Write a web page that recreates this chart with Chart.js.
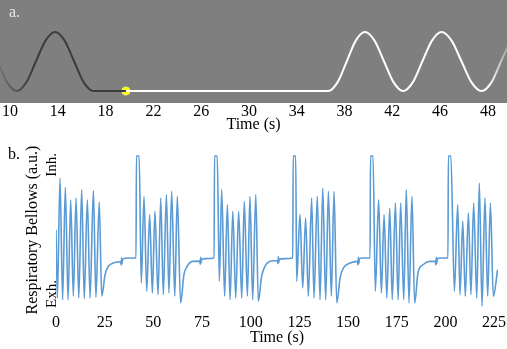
<!DOCTYPE html>
<html>
<head>
<meta charset="utf-8">
<script src="https://cdn.jsdelivr.net/npm/chart.js@4.4.0/dist/chart.umd.min.js"></script>
<style>
	body { margin: 0; background: #fff; }
	.panel { position: relative; width: 507px; }
	.tag { position: absolute; font: 16px "Liberation Serif", serif; }
</style>
</head>
<body>
<div class="panel" style="height:140px">
	<canvas id="scan_chart"></canvas>
	<div class="tag" style="left:9px;top:3px;color:#e6e6e6">a.</div>
</div>
<div class="panel" style="height:209px">
	<canvas id="bellows_chart"></canvas>
	<div class="tag" style="left:8px;top:5px;color:#000">b.</div>
</div>
<script>
// panel a: stimulus trace (time in s, level 0 = rest, 1 = peak)
const scanTicks = [10, 14, 18, 22, 26, 30, 34, 38, 42, 46, 50];
const scanTickLabels = ['10', '14', '18', '22', '26', '30', '34', '38', '42', '46', '48'];

const pastTime  = [8.96, 9.76, 10.56, 11.36, 12.16, 12.97, 13.77, 14.57, 15.37, 16.17, 16.98, 19.71];
const pastLevel = [0.5, 0.146, 0, 0.146, 0.5, 0.854, 1, 0.854, 0.5, 0.146, 0, 0];

const futureTime  = [19.71, 36.64, 37.41, 38.18, 38.94, 39.71, 40.51, 41.31, 42.11, 42.91, 43.71, 44.51, 45.32, 46.12, 46.96, 47.80, 48.63, 49.47, 50.3, 51.1, 51.9];
const futureLevel = [0, 0, 0.146, 0.5, 0.854, 1, 0.854, 0.5, 0.146, 0, 0.146, 0.5, 0.854, 1, 0.854, 0.5, 0.146, 0, 0.146, 0.5, 0.854];

const cursorTime = [19.71];
const cursorLevel = [0];

// panel b: respiratory bellows (Exh. = 0, Inh. = 100)
const bellowsTicks = [0, 25, 50, 75, 100, 125, 150, 175, 200, 225];
const bellowsLevelTicks = [0, 100];
const bellowsLevelLabels = ['Exh.', 'Inh.'];

const bellowsTime = [
	0, 0.7, 2.05, 3.4, 4.8, 6.2, 7.55, 8.9, 10.3, 11.7, 13.2, 14.5, 16.1, 17.5, 19.2, 20.5, 22.2, 23.5,
	25.2, 26.9, 29.4, 33.2, 33.5, 33.7, 33.9, 34.2, 37.1, 41.1,
	41.3, 42.7,
	43.8, 45.2, 46.6, 48.1, 49.5, 50.8, 52.4, 53.8, 55.1, 56.7, 58.0, 59.4, 61.0, 62.3, 64.0,
	65.7, 67.4, 70.0, 73.8, 74.1, 74.3, 74.5, 74.8, 76.9, 81.2,
	81.4, 82.8,
	83.9, 85.1, 86.6, 88.0, 89.4, 90.8, 92.3, 93.8, 95.4, 96.7, 98.3, 99.6, 101.0, 102.6, 103.9,
	105.6, 107.3, 109.9, 113.7, 114.0, 114.2, 114.4, 114.7, 117.6, 121.6,
	121.8, 123.1,
	123.6, 125.3, 126.7, 128.2, 129.6, 131.3, 132.5, 134.2, 135.6, 137.0, 138.5, 139.9, 141.4, 142.8, 144.2,
	145.9, 147.6, 151.0, 154.8, 155.1, 155.3, 155.5, 155.8, 157.0, 161.3,
	161.5, 162.8,
	164.0, 165.7, 167.1, 168.5, 169.9, 171.4, 172.7, 174.3, 175.7, 177.0, 178.6, 179.9, 181.3, 182.8, 184.2,
	185.9, 188.5, 191.9, 194.8, 195.1, 195.3, 195.5, 195.8, 197.1, 201.3,
	201.5, 202.8,
	204.6, 206.3, 207.5, 208.9, 210.2, 211.8, 213.1, 214.5, 216.1, 217.4, 218.8, 220.3, 221.7, 223.1, 224.6, 226.8
];
const bellowsLevel = [
	49.8, -3.1, 89.9, -4.4, 82.7, -4.4, 73.1, -1.8, 74.4, -3.1, 80.9, -3.6, 73.1, -3.1, 80.1, -2.5, 71.3, -1.8,
	15.0, 21.5, 24.0, 25.0, 22.5, 28.0, 23.5, 27.0, 27.9, 27.9,
	107, 107,
	8.5, 75.7, 2.1, 61.5, 0.8, 64.1, -0.5, 74.4, -0.5, 77.0, 0.8, 79.6, -1.8, 75.7, -7.0,
	15.0, 21.5, 25.3, 25.5, 23.0, 28.5, 24.0, 26.8, 27.4, 27.9,
	107, 107,
	9.8, 80.9, -1.8, 69.2, -4.4, 64.1, -3.1, 64.1, -3.1, 71.9, -1.8, 75.7, -4.4, 77.0, -5.7,
	13.7, 21.5, 25.3, 26.0, 23.5, 29.0, 24.5, 27.0, 27.4, 27.9,
	107, 107,
	9.8, 61.5, 4.7, 58.9, -1.8, 74.4, -3.1, 75.7, -4.4, 82.2, -4.4, 79.6, -1.8, 79.6, -7.0,
	12.4, 20.2, 24.0, 25.3, 22.5, 28.5, 23.5, 27.0, 27.9, 27.9,
	107, 107,
	2.1, 73.1, 0.8, 61.5, -3.1, 66.7, -4.4, 70.5, -4.4, 70.5, -4.4, 80.9, -7.0, 75.7, -7.0,
	16.3, 22.7, 25.3, 25.3, 22.5, 28.5, 23.5, 27.0, 27.9, 27.9,
	107, 107,
	2.1, 69.2, -0.5, 56.4, -1.8, 62.8, -0.5, 70.5, -3.1, 86.0, -9.5, 74.4, -1.8, 70.5, -1.8, 18.8
];

const SERIF = '"Liberation Serif", "Times New Roman", serif';
const toPoints = (xs, ys) => xs.map((x, i) => ({x: x, y: ys[i]}));

const greyBackdrop = {
	id: 'greyBackdrop',
	beforeDraw(chart) {
		const {ctx, chartArea: a} = chart;
		ctx.save();
		ctx.fillStyle = '#7f7f7f';
		ctx.fillRect(a.left, a.top, a.right - a.left, a.bottom - a.top);
		ctx.restore();
	}
};

// fade the trace at the panel edges
function edgeFade(color, faded, fadeLeft) {
	return ctx => {
		const area = ctx.chart.chartArea;
		if (!area) return color;
		const g = ctx.chart.ctx.createLinearGradient(area.left, 0, area.right, 0);
		if (fadeLeft) {
			g.addColorStop(0, faded);
			g.addColorStop(0.06, color);
			g.addColorStop(1, color);
		} else {
			g.addColorStop(0, color);
			g.addColorStop(0.965, color);
			g.addColorStop(1, faded);
		}
		return g;
	};
}

// keep the edge tick labels from shrinking the plot area
function fixedHeight(h) {
	return s => {
		s.height = h;
		s.paddingLeft = 0;
		s.paddingRight = 0;
	};
}

const scan_chart = new Chart(document.getElementById('scan_chart'), {
	type: 'line',
	data: {
		datasets: [
			{
				data: toPoints(pastTime, pastLevel),
				borderColor: edgeFade('#3c3c3c', 'rgba(60,60,60,0.2)', true),
				borderWidth: 2,
				pointRadius: 0,
				cubicInterpolationMode: 'monotone',
			},
			{
				data: toPoints(futureTime, futureLevel),
				borderColor: edgeFade('#ffffff', 'rgba(255,255,255,0.3)', false),
				borderWidth: 2,
				pointRadius: 0,
				cubicInterpolationMode: 'monotone',
			},
			{
				data: toPoints(cursorTime, cursorLevel),
				showLine: false,
				pointRadius: 4,
				pointBackgroundColor: '#ffff00',
				pointBorderColor: '#f4f46a',
				pointBorderWidth: 1,
			},
		]
	},
	options: {
		responsive: true,
		maintainAspectRatio: false,
		animation: false,
		plugins: { legend: { display: false }, tooltip: { enabled: false } },
		layout: { padding: 0, autoPadding: false },
		scales: {
			x: {
				type: 'linear',
				min: 9.16,
				max: 51.6,
				afterBuildTicks: s => { s.ticks = scanTicks.map(v => ({value: v})); },
				afterFit: fixedHeight(37),
				ticks: {
					autoSkip: false,
					maxRotation: 0,
					padding: -1,
					color: '#000',
					font: { family: SERIF, size: 16 },
					callback: (v, i) => scanTickLabels[i],
				},
				grid: { display: false, drawTicks: false },
				border: { display: false },
				title: {
					display: true,
					text: 'Time (s)',
					color: '#000',
					font: { family: SERIF, size: 16 },
					padding: { top: 0, bottom: 6 },
				},
			},
			y: {
				display: false,
				min: -0.203,
				max: 1.542,
			},
		}
	},
	plugins: [greyBackdrop],
});

// rotated Inh./Exh. labels placed on the level scale
const sideLabels = {
	id: 'sideLabels',
	afterDraw(chart) {
		const y = chart.scales.y;
		const ctx = chart.ctx;
		ctx.save();
		ctx.font = '15px ' + SERIF;
		ctx.fillStyle = '#000';
		ctx.textAlign = 'center';
		ctx.textBaseline = 'middle';
		bellowsLevelTicks.forEach((v, i) => {
			ctx.save();
			ctx.translate(y.right - 4, y.getPixelForValue(v));
			ctx.rotate(-Math.PI / 2);
			ctx.fillText(bellowsLevelLabels[i], 0, 0);
			ctx.restore();
		});
		ctx.restore();
	}
};

const bellows_chart = new Chart(document.getElementById('bellows_chart'), {
	type: 'line',
	data: {
		datasets: [
			{
				data: toPoints(bellowsTime, bellowsLevel),
				borderColor: '#5b9bd5',
				borderWidth: 1.6,
				pointRadius: 0,
				cubicInterpolationMode: 'monotone',
			},
		]
	},
	options: {
		responsive: true,
		maintainAspectRatio: false,
		animation: false,
		plugins: { legend: { display: false }, tooltip: { enabled: false } },
		layout: { padding: { left: 19, right: 9, top: 10, bottom: 0 }, autoPadding: false },
		scales: {
			x: {
				type: 'linear',
				min: 0,
				max: 227,
				afterBuildTicks: s => { s.ticks = bellowsTicks.map(v => ({value: v})); },
				afterFit: fixedHeight(39),
				ticks: {
					autoSkip: false,
					maxRotation: 0,
					padding: 3,
					color: '#000',
					font: { family: SERIF, size: 16 },
				},
				grid: { display: false, drawTicks: false },
				border: { display: false },
				title: {
					display: true,
					text: 'Time (s)',
					color: '#000',
					font: { family: SERIF, size: 16 },
					padding: { top: 0, bottom: 2 },
				},
			},
			y: {
				min: -12.4,
				max: 111.6,
				afterFit: s => { s.width = 37; },
				ticks: { display: false },
				grid: { display: false, drawTicks: false },
				border: { display: false },
				title: {
					display: true,
					text: 'Respiratory Bellows (a.u.)',
					color: '#000',
					font: { family: SERIF, size: 16 },
					padding: { top: 4, bottom: 0 },
				},
			},
		}
	},
	plugins: [sideLabels],
});
</script>
</body>
</html>
